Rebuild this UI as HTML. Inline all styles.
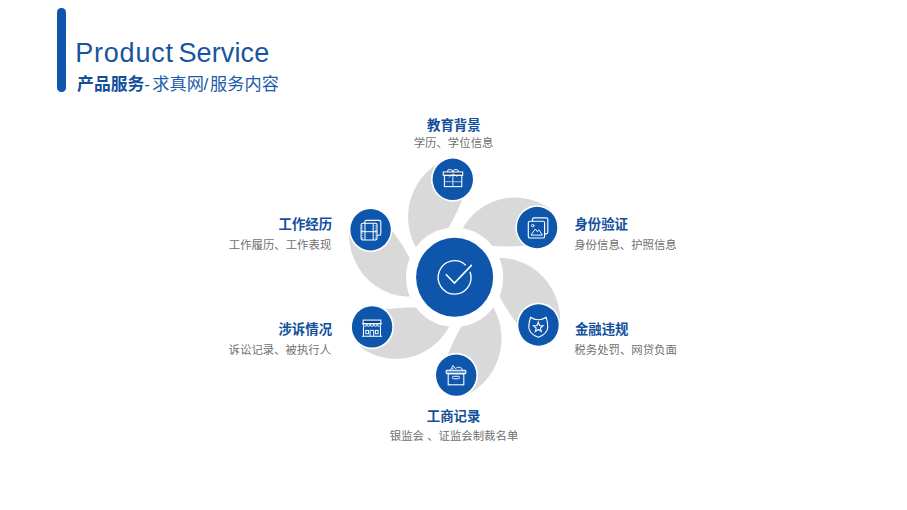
<!DOCTYPE html>
<html lang="zh"><head><meta charset="utf-8"><title>Product Service</title>
<style>
html,body{margin:0;padding:0;background:#fff}
body{width:907px;height:510px;position:relative;overflow:hidden;font-family:"Liberation Sans",sans-serif}
.bar{position:absolute;left:57.4px;top:8.4px;width:8.6px;height:83.2px;border-radius:4.3px;background:#0E56AC}
h1{position:absolute;left:75.3px;top:38px;margin:0;font-size:27px;word-spacing:-2.8px;line-height:30px;font-weight:400;color:#17559F;white-space:nowrap;letter-spacing:0px}
svg text{font-family:"Liberation Sans","Noto Sans CJK SC",sans-serif}
</style></head><body>
<div class="bar"></div>
<svg width="907" height="510" viewBox="0 0 907 510" style="position:absolute;left:0;top:0"><g fill="#D9D9D9"><path d="M444.7,160.1L442.9,160.9L441.2,161.7L439.5,162.7L437.9,163.6L436.2,164.7L434.6,165.7L433.1,166.9L431.5,168.1L430.0,169.3L428.6,170.6L427.1,171.9L425.8,173.3L424.4,174.7L423.2,176.1L421.9,177.6L420.7,179.2L419.6,180.8L418.5,182.4L417.4,184.0L416.4,185.7L415.5,187.4L414.6,189.2L413.8,190.9L413.0,192.7L412.3,194.5L411.6,196.4L411.0,198.3L410.4,200.1L409.9,202.0L409.5,204.0L409.1,205.9L408.8,207.8L408.5,209.8L408.3,211.7L408.2,213.7L408.1,215.7L408.1,217.6L408.2,219.6L408.3,221.6L408.4,223.5L408.7,225.5L409.0,227.4L409.3,229.3L409.7,231.3L410.2,233.2L410.7,235.1L411.3,236.9L411.9,238.8L412.6,240.6L413.4,242.4L414.2,244.2L415.1,246.0L416.0,247.7L417.0,249.4L418.0,251.1L419.1,252.7L420.2,254.3L421.4,255.8L422.6,257.4L423.8,258.8L425.1,260.3L426.5,261.7L441.0,239.5L444.4,234.4L447.7,229.1L450.8,223.7L453.7,218.3L456.5,212.7L459.1,207.1L461.5,201.3L463.8,195.5L465.9,189.6L467.8,183.7Z"/><path d="M551.1,209.8L549.6,208.7L548.0,207.6L546.4,206.5L544.7,205.6L543.0,204.6L541.3,203.7L539.6,202.9L537.8,202.1L536.0,201.4L534.2,200.8L532.4,200.2L530.5,199.6L528.7,199.2L526.8,198.8L524.9,198.4L523.0,198.1L521.1,197.9L519.2,197.7L517.3,197.6L515.3,197.6L513.4,197.6L511.5,197.7L509.6,197.8L507.7,198.0L505.8,198.3L503.9,198.6L502.0,199.0L500.1,199.4L498.3,200.0L496.5,200.5L494.6,201.2L492.8,201.8L491.1,202.6L489.3,203.4L487.6,204.3L485.9,205.2L484.2,206.1L482.6,207.2L481.0,208.2L479.4,209.4L477.9,210.6L476.4,211.8L474.9,213.1L473.5,214.4L472.1,215.8L470.8,217.2L469.5,218.6L468.2,220.1L467.0,221.7L465.9,223.2L464.8,224.8L463.7,226.5L462.7,228.2L461.8,229.9L460.9,231.6L460.1,233.4L459.3,235.2L458.5,237.0L457.9,238.8L457.3,240.7L456.7,242.6L456.2,244.5L481.5,244.8L487.6,245.5L493.7,246.0L499.8,246.3L505.9,246.5L511.9,246.4L518.0,246.1L524.1,245.7L530.1,245.0L536.1,244.2L542.1,243.2Z"/><path d="M559.6,327.3L559.8,325.3L560.0,323.4L560.0,321.4L560.0,319.4L560.0,317.5L559.9,315.5L559.7,313.5L559.5,311.6L559.2,309.6L558.8,307.7L558.4,305.8L558.0,303.9L557.4,302.0L556.8,300.1L556.2,298.3L555.5,296.4L554.7,294.6L553.9,292.8L553.0,291.1L552.1,289.4L551.1,287.7L550.1,286.0L549.0,284.4L547.9,282.8L546.7,281.2L545.5,279.7L544.2,278.2L542.9,276.8L541.6,275.4L540.2,274.1L538.7,272.8L537.2,271.5L535.7,270.3L534.2,269.2L532.6,268.1L531.0,267.0L529.3,266.0L527.6,265.1L525.9,264.2L524.2,263.4L522.4,262.6L520.6,261.9L518.8,261.2L517.0,260.6L515.1,260.1L513.3,259.6L511.4,259.2L509.5,258.8L507.6,258.5L505.7,258.3L503.8,258.1L501.9,258.0L500.0,258.0L498.0,258.0L496.1,258.1L494.2,258.2L492.3,258.4L490.4,258.7L488.5,259.0L486.6,259.4L484.8,259.8L482.9,260.3L493.3,284.1L495.9,289.7L498.8,295.3L501.8,300.7L504.9,306.1L508.2,311.3L511.7,316.4L515.3,321.5L519.1,326.4L523.0,331.1L527.1,335.8Z"/><path d="M464.9,395.5L466.7,394.7L468.4,393.9L470.1,392.9L471.7,392.0L473.4,390.9L475.0,389.9L476.5,388.7L478.1,387.5L479.6,386.3L481.0,385.0L482.5,383.7L483.8,382.3L485.2,380.9L486.4,379.5L487.7,378.0L488.9,376.4L490.0,374.8L491.1,373.2L492.2,371.6L493.2,369.9L494.1,368.2L495.0,366.4L495.8,364.7L496.6,362.9L497.3,361.1L498.0,359.2L498.6,357.3L499.2,355.5L499.7,353.6L500.1,351.6L500.5,349.7L500.8,347.8L501.1,345.8L501.3,343.9L501.4,341.9L501.5,339.9L501.5,338.0L501.4,336.0L501.3,334.0L501.2,332.1L500.9,330.1L500.6,328.2L500.3,326.3L499.9,324.3L499.4,322.4L498.9,320.5L498.3,318.7L497.7,316.8L497.0,315.0L496.2,313.2L495.4,311.4L494.5,309.6L493.6,307.9L492.6,306.2L491.6,304.5L490.5,302.9L489.4,301.3L488.2,299.8L487.0,298.2L485.8,296.8L484.5,295.3L483.1,293.9L468.5,315.1L465.1,320.2L461.9,325.5L458.9,330.9L456.0,336.3L453.3,341.9L450.8,347.5L448.4,353.3L446.3,359.1L444.3,365.0L442.4,370.9Z"/><path d="M359.9,346.6L361.4,347.7L363.0,348.8L364.6,349.9L366.3,350.8L368.0,351.8L369.7,352.7L371.4,353.5L373.2,354.3L375.0,355.0L376.8,355.6L378.6,356.2L380.5,356.8L382.3,357.2L384.2,357.6L386.1,358.0L388.0,358.3L389.9,358.5L391.8,358.7L393.7,358.8L395.7,358.8L397.6,358.8L399.5,358.7L401.4,358.6L403.3,358.4L405.2,358.1L407.1,357.8L409.0,357.4L410.9,357.0L412.7,356.4L414.5,355.9L416.4,355.2L418.2,354.6L419.9,353.8L421.7,353.0L423.4,352.1L425.1,351.2L426.8,350.3L428.4,349.2L430.0,348.2L431.6,347.0L433.1,345.8L434.6,344.6L436.1,343.3L437.5,342.0L438.9,340.6L440.2,339.2L441.5,337.8L442.8,336.3L444.0,334.7L445.1,333.2L446.2,331.6L447.3,329.9L448.3,328.2L449.2,326.5L450.1,324.8L450.9,323.0L451.7,321.2L452.5,319.4L453.1,317.6L453.7,315.7L454.3,313.8L454.8,311.9L429.5,308.2L423.4,307.8L417.3,307.5L411.2,307.4L405.1,307.6L399.1,307.9L393.0,308.4L386.9,309.1L380.9,310.0L374.9,311.1L368.9,312.4Z"/><path d="M349.6,227.3L349.4,229.3L349.2,231.2L349.2,233.2L349.2,235.2L349.2,237.1L349.3,239.1L349.5,241.1L349.7,243.0L350.0,245.0L350.4,246.9L350.8,248.8L351.2,250.7L351.8,252.6L352.4,254.5L353.0,256.3L353.7,258.2L354.5,260.0L355.3,261.8L356.2,263.5L357.1,265.2L358.1,266.9L359.1,268.6L360.2,270.2L361.3,271.8L362.5,273.4L363.7,274.9L365.0,276.4L366.3,277.8L367.6,279.2L369.0,280.5L370.5,281.8L372.0,283.1L373.5,284.3L375.0,285.4L376.6,286.5L378.2,287.6L379.9,288.6L381.6,289.5L383.3,290.4L385.0,291.2L386.8,292.0L388.6,292.7L390.4,293.4L392.2,294.0L394.1,294.5L395.9,295.0L397.8,295.4L399.7,295.8L401.6,296.1L403.5,296.3L405.4,296.5L407.3,296.6L409.2,296.6L411.2,296.6L413.1,296.5L415.0,296.4L416.9,296.2L418.8,295.9L420.7,295.6L422.6,295.2L424.4,294.8L426.3,294.3L415.9,270.5L413.3,264.9L410.4,259.3L407.4,253.9L404.3,248.5L401.0,243.3L397.5,238.2L393.9,233.1L390.1,228.2L386.2,223.5L382.1,218.8Z"/></g>
<ellipse cx="454.6" cy="277.3" rx="48.6" ry="49.81" fill="#fff"/><ellipse cx="454.6" cy="277.3" rx="38.5" ry="39.46" fill="#0E56AC"/><ellipse cx="452.8" cy="179.3" rx="21.8" ry="22.34" fill="#fff"/><ellipse cx="452.8" cy="179.3" rx="20.2" ry="20.70" fill="#0E56AC"/><ellipse cx="537.1" cy="227.5" rx="21.8" ry="22.34" fill="#fff"/><ellipse cx="537.1" cy="227.5" rx="20.2" ry="20.70" fill="#0E56AC"/><ellipse cx="538.5" cy="325.0" rx="21.8" ry="22.34" fill="#fff"/><ellipse cx="538.5" cy="325.0" rx="20.2" ry="20.70" fill="#0E56AC"/><ellipse cx="456.2" cy="375.1" rx="21.8" ry="22.34" fill="#fff"/><ellipse cx="456.2" cy="375.1" rx="20.2" ry="20.70" fill="#0E56AC"/><ellipse cx="372.1" cy="326.9" rx="21.8" ry="22.34" fill="#fff"/><ellipse cx="372.1" cy="326.9" rx="20.2" ry="20.70" fill="#0E56AC"/><ellipse cx="370.6" cy="229.7" rx="21.8" ry="22.34" fill="#fff"/><ellipse cx="370.6" cy="229.7" rx="20.2" ry="20.70" fill="#0E56AC"/>
<g fill="none" stroke="#fff" stroke-linecap="round" stroke-linejoin="round">
<path stroke-width="1.35" d="M470.21,272.18A16.45,16.7 0 1 1 465.48,264.92"/>
<path stroke-width="1.6" stroke-linejoin="miter" d="M446.3,274.7L454.4,283.1L471.4,265.4"/>
<g stroke-width="1.05" stroke-linecap="butt" stroke-linejoin="miter"><rect x="443.3" y="172" width="19.4" height="3.3" fill="#0B3F82"/><rect x="444.4" y="175.3" width="17.4" height="11.3"/><path d="M452.9,175.3V186.6" stroke-width="0.85"/><path d="M444.4,181.7H461.8" stroke-width="0.8" opacity="0.75"/><path d="M447.6,172v-1q0,-1.4 1.5,-1.4h1.7q1.6,0 2.1,2.4M458.2,172v-1q0,-1.4 -1.5,-1.4h-1.7q-1.6,0 -2.1,2.4" stroke-width="0.95"/><path d="M452.9,173.6L449,177.5M452.9,173.6L457,176.6" stroke-width="0.8"/></g>
<g stroke-width="1.15"><rect x="528.3" y="221.2" width="16.3" height="16.8" rx="1.6"/><path d="M532.5,221.2V219.3q0,-1.5 1.5,-1.5H546.3q1.5,0 1.5,1.5V232.3q0,1.5 -1.5,1.5H544.6"/><circle cx="532.7" cy="225.7" r="1.25" stroke-width="0.9"/><path d="M531.2,234.8L535.3,229L537.3,231.7L538.8,229.8L542.2,234.8Z" stroke-width="0.95" stroke-linejoin="miter"/></g>
<g stroke-width="1.1"><path d="M530.6,317.3Q534.3,319.9 538.3,319.7Q542.3,319.9 546.2,317.3Q547.7,322 547.8,327Q547.6,333.8 538.3,337.3Q529,333.8 528.8,327Q528.9,322 530.6,317Z"/><path d="M538.30,322.20L539.59,325.52L543.15,325.72L540.39,327.98L541.30,331.43L538.30,329.50L535.30,331.43L536.21,327.98L533.45,325.72L537.01,325.52Z" stroke-width="1.1" stroke-linejoin="miter"/></g>
<g stroke-width="1.1" stroke-linejoin="miter" stroke-linecap="butt"><rect x="446.2" y="370.3" width="19.6" height="3.4" rx="0.8" fill="#fff" fill-opacity="0.35"/><rect x="448.2" y="373.7" width="15.6" height="11.1"/><rect x="452.4" y="376.3" width="7.2" height="2.5" rx="1.2" stroke-width="0.95"/><path d="M450.2,370.3L453,365.4L455.4,368.6Q457.8,366.4 460,367.4Q462.5,368.2 462.6,370.3M452.2,369.5L453.3,367.6" stroke-width="0.9"/></g>
<g stroke-width="1.05" stroke-linejoin="miter" stroke-linecap="butt"><rect x="363.2" y="320.1" width="17.6" height="3.5" fill="#0B3F82"/><path d="M362,323.8H382M361.9,336.3H382.1M363.5,326.5V336.3M380.5,326.5V336.3"/><path d="M363.20,323.8v1a1.76,1.5 0 0 0 3.52,0v-1M366.72,323.8v1a1.76,1.5 0 0 0 3.52,0v-1M370.24,323.8v1a1.76,1.5 0 0 0 3.52,0v-1M373.76,323.8v1a1.76,1.5 0 0 0 3.52,0v-1M377.28,323.8v1a1.76,1.5 0 0 0 3.52,0v-1" stroke-width="0.9"/><rect x="365.8" y="330.4" width="2.7" height="3.3" stroke-width="0.95"/><rect x="375.4" y="330.4" width="2.7" height="3.3" stroke-width="0.95"/><path d="M370.1,336.3V330.4H373.7V336.3" stroke-width="0.95"/></g>
<g stroke-width="1.1"><rect x="361.1" y="223.2" width="15.9" height="16.8" rx="1.6"/><path d="M364.8,223.2V221.9q0,-1.5 1.5,-1.5H379.3q1.5,0 1.5,1.5V233.7q0,1.5 -1.5,1.5H377"/><path d="M365,223.2V240M373.2,223.2V240M361.1,231.7H377" stroke-width="1" stroke-linecap="butt"/><path d="M362.5,225V239.4M375.6,225V239.4" stroke-width="1.3" stroke-dasharray="0.55 1.15" stroke-linecap="butt" opacity="0.9"/></g>
</g>
<text x="427.05" y="129.65" font-size="13.4" font-weight="700" fill="#124F9C">教育背景</text>
<text x="574.42" y="228.53" font-size="13.4" font-weight="700" fill="#124F9C">身份验证</text>
<text x="278.56" y="228.63" font-size="13.4" font-weight="700" fill="#124F9C">工作经历</text>
<text x="278.47" y="333.78" font-size="13.4" font-weight="700" fill="#124F9C">涉诉情况</text>
<text x="574.93" y="333.87" font-size="13.4" font-weight="700" fill="#124F9C">金融违规</text>
<text x="426.79" y="420.90" font-size="13.4" font-weight="700" fill="#124F9C">工商记录</text>
<text x="413.68" y="147.07" font-size="11.4" fill="#707070">学历、学位信息</text>
<text x="574.22" y="248.94" font-size="11.4" fill="#707070">身份信息、护照信息</text>
<text x="228.75" y="248.92" font-size="11.4" fill="#707070">工作履历、工作表现</text>
<text x="228.62" y="353.93" font-size="11.4" fill="#707070">诉讼记录、被执行人</text>
<text x="574.36" y="353.93" font-size="11.4" fill="#707070">税务处罚、网贷负面</text>
<text x="389.83" y="440.15" font-size="11.4" fill="#707070">银监会 、证监会制裁名单</text>
<text x="77.10" y="89.62" font-size="16.8" font-weight="700" fill="#124F9C">产品服务</text>
<text x="144.21" y="89.77" font-size="17.2" fill="#1C5CAB">-</text>
<text x="152.36" y="89.77" font-size="17.2" fill="#1C5CAB">求真网</text>
<text x="203.41" y="89.77" font-size="17.2" fill="#1C5CAB">/</text>
<text x="210.09" y="89.77" font-size="17.2" fill="#1C5CAB">服务内容</text>
</svg>
<h1><span style="letter-spacing:.77px">Product</span> <span style="letter-spacing:.13px">Service</span></h1>

</body></html>
